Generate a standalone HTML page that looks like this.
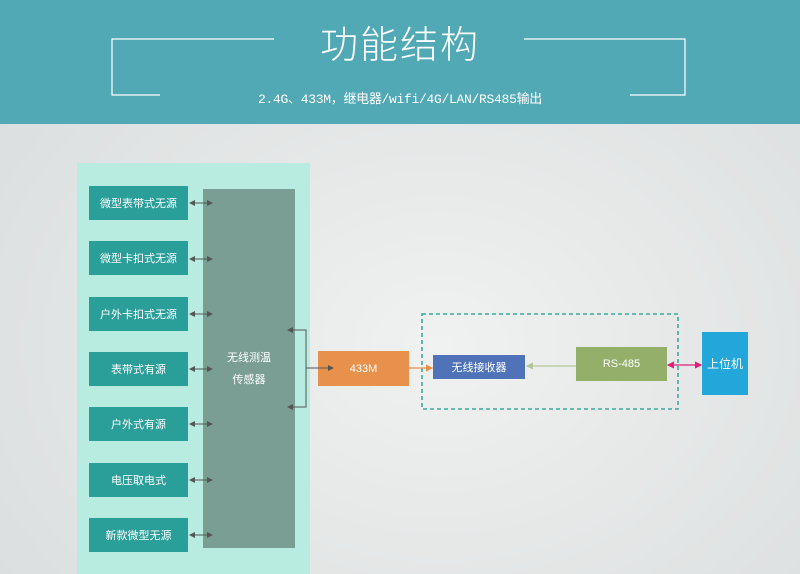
<!DOCTYPE html>
<html><head><meta charset="utf-8"><style>
body{margin:0;width:800px;height:574px;overflow:hidden;font-family:"Liberation Sans","Noto Sans CJK SC",sans-serif;position:relative;background:radial-gradient(ellipse at 55% 60%,#f0f1f1,#dfe2e2 70%,#d8dcdc);}
.a{position:absolute;box-sizing:border-box;color:#fff;display:flex;align-items:center;justify-content:center;font-size:11px;text-align:center}
.b{left:89px;width:99px;height:34px;background:#2a9e98}
</style></head><body>
<div class="a" style="left:0;top:0;width:800px;height:124px;background:#52a9b6"></div>
<div class="a" style="left:275px;top:16px;width:250px;height:50px;font-size:38px;letter-spacing:2px;font-weight:300">功能结构</div>
<div class="a" style="left:200px;top:86px;width:400px;height:22px;font-size:13px;font-family:'Liberation Mono','Noto Sans CJK SC',monospace;letter-spacing:-0.3px">2.4G、433M，继电器/wifi/4G/LAN/RS485输出</div>
<div class="a" style="left:77px;top:163px;width:233px;height:411px;background:#b8ece0"></div>
<div class="a b" style="top:186px">微型表带式无源</div>
<div class="a b" style="top:241px">微型卡扣式无源</div>
<div class="a b" style="top:297px">户外卡扣式无源</div>
<div class="a b" style="top:352px">表带式有源</div>
<div class="a b" style="top:407px">户外式有源</div>
<div class="a b" style="top:463px">电压取电式</div>
<div class="a b" style="top:518px">新款微型无源</div>
<div class="a" style="left:203px;top:189px;width:92px;height:359px;background:#7a9e94;line-height:22px"><div>无线测温<br>传感器</div></div>
<div class="a" style="left:318px;top:351px;width:91px;height:35px;background:#e8914c">433M</div>
<div class="a" style="left:433px;top:355px;width:92px;height:24px;background:#4f72b8">无线接收器</div>
<div class="a" style="left:576px;top:347px;width:91px;height:34px;background:#93af6a">RS-485</div>
<div class="a" style="left:702px;top:332px;width:46px;height:63px;background:#23a6d9;font-size:12px">上位机</div>
<svg style="position:absolute;left:0;top:0" width="800" height="574">
<defs><marker id="m" markerWidth="6" markerHeight="6" refX="5" refY="3" orient="auto-start-reverse"><path d="M0,0L6,3L0,6z" fill="#555"/></marker>
<marker id="p" markerWidth="6" markerHeight="6" refX="5" refY="3" orient="auto-start-reverse"><path d="M0,0L6,3L0,6z" fill="#e0207a"/></marker>
<marker id="g" markerWidth="6" markerHeight="6" refX="5" refY="3" orient="auto"><path d="M0,0L6,3L0,6z" fill="#b5c79a"/></marker>
<marker id="o" markerWidth="6" markerHeight="6" refX="5" refY="3" orient="auto"><path d="M0,0L6,3L0,6z" fill="#e8914c"/></marker></defs>
<rect x="422" y="314" width="256" height="95" fill="none" stroke="#3aa99c" stroke-width="1.6" stroke-dasharray="4 3"/>
<g stroke="#fff" stroke-width="1.2" fill="none">
<path d="M274 39H112V95H160"/><path d="M524 39H685V95H630"/></g>
<g stroke="#555" stroke-width="1" fill="none">
<line x1="190" y1="203" x2="212" y2="203" marker-start="url(#m)" marker-end="url(#m)"/>
<line x1="190" y1="259" x2="212" y2="259" marker-start="url(#m)" marker-end="url(#m)"/>
<line x1="190" y1="314" x2="212" y2="314" marker-start="url(#m)" marker-end="url(#m)"/>
<line x1="190" y1="369" x2="212" y2="369" marker-start="url(#m)" marker-end="url(#m)"/>
<line x1="190" y1="424" x2="212" y2="424" marker-start="url(#m)" marker-end="url(#m)"/>
<line x1="190" y1="480" x2="212" y2="480" marker-start="url(#m)" marker-end="url(#m)"/>
<line x1="190" y1="535" x2="212" y2="535" marker-start="url(#m)" marker-end="url(#m)"/>
<path d="M288 330H306V407H288" marker-start="url(#m)" marker-end="url(#m)"/>
<line x1="306" y1="368" x2="333" y2="368" marker-end="url(#m)"/>
</g>
<line x1="409" y1="368" x2="432" y2="368" stroke="#e8914c" stroke-width="1.2" marker-end="url(#o)"/>
<line x1="576" y1="366" x2="527" y2="366" stroke="#b5c79a" stroke-width="1.2" marker-end="url(#g)"/>
<line x1="668" y1="365" x2="701" y2="365" stroke="#e0207a" stroke-width="1.2" marker-start="url(#p)" marker-end="url(#p)"/>
</svg>
</body></html>
